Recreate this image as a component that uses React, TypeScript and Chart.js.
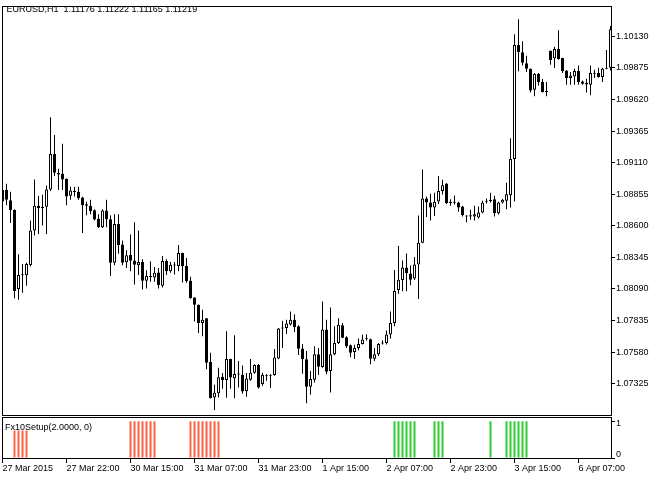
import { useEffect, useRef } from 'react';
import { Chart, registerables } from 'chart.js';
Chart.register(...registerables);

const FONT = "'Liberation Sans', Arial, sans-serif";
const TITLE = 'EURUSD,H1  1.11176 1.11222 1.11165 1.11219';
const INDICATOR_TITLE = 'Fx10Setup(2.0000, 0)';

const opens = [
  1.08796, 1.08892, 1.08806, 1.08730, 1.08090, 1.08202, 1.08200, 1.08284, 1.08562, 1.08762,
  1.08742, 1.08754, 1.08894, 1.09180, 1.09028, 1.09020, 1.08980, 1.08842, 1.08882, 1.08876,
  1.08828, 1.08774, 1.08762, 1.08726, 1.08658, 1.08588, 1.08724, 1.08654, 1.08302, 1.08614,
  1.08450, 1.08306, 1.08364, 1.08320, 1.08282, 1.08308, 1.08156, 1.08194, 1.08182, 1.08222,
  1.08116, 1.08316, 1.08234, 1.08284, 1.08276, 1.08380, 1.08276, 1.08156, 1.08020, 1.07962,
  1.07814, 1.07854, 1.07500, 1.07214, 1.07248, 1.07380, 1.07354, 1.07524, 1.07368, 1.07402,
  1.07396, 1.07264, 1.07356, 1.07414, 1.07476, 1.07322, 1.07392, 1.07388, 1.07394, 1.07528,
  1.07770, 1.07774, 1.07802, 1.07842, 1.07788, 1.07610, 1.07522, 1.07300, 1.07356, 1.07562,
  1.07460, 1.07762, 1.07428, 1.07562, 1.07654, 1.07796, 1.07700, 1.07636, 1.07580, 1.07614,
  1.07646, 1.07684, 1.07684, 1.07526, 1.07562, 1.07650, 1.07654, 1.07722, 1.07814, 1.08082,
  1.08162, 1.08264, 1.08214, 1.08174, 1.08288, 1.08464, 1.08820, 1.08788, 1.08748, 1.08796,
  1.08882, 1.08942, 1.08794, 1.08786, 1.08788, 1.08756, 1.08682, 1.08676, 1.08676, 1.08668,
  1.08708, 1.08794, 1.08798, 1.08814, 1.08702, 1.08788, 1.08802, 1.08846, 1.09140, 1.10060,
  1.10002, 1.09914, 1.09868, 1.09700, 1.09828, 1.09762, 1.09682, 1.10014, 1.09954, 1.10028,
  1.09956, 1.09854, 1.09794, 1.09806, 1.09850, 1.09766, 1.09756, 1.09740, 1.09828, 1.09834,
  1.09802, 1.09868, 1.09876,
];
const highs = [
  1.08908, 1.08940, 1.08876, 1.08732, 1.08370, 1.08292, 1.08302, 1.08642, 1.08974, 1.08842,
  1.08850, 1.08926, 1.09476, 1.09334, 1.09060, 1.09262, 1.08982, 1.08916, 1.08916, 1.08916,
  1.08834, 1.08794, 1.08810, 1.08734, 1.08694, 1.08734, 1.08810, 1.08686, 1.08694, 1.08694,
  1.08482, 1.08402, 1.08530, 1.08628, 1.08562, 1.08330, 1.08242, 1.08314, 1.08268, 1.08260,
  1.08356, 1.08330, 1.08308, 1.08308, 1.08446, 1.08382, 1.08340, 1.08188, 1.08022, 1.07964,
  1.07922, 1.07856, 1.07574, 1.07316, 1.07454, 1.07412, 1.07748, 1.07526, 1.07716, 1.07508,
  1.07472, 1.07412, 1.07524, 1.07482, 1.07484, 1.07414, 1.07402, 1.07402, 1.07604, 1.07774,
  1.07834, 1.07842, 1.07908, 1.07886, 1.07796, 1.07646, 1.07588, 1.07428, 1.07628, 1.07614,
  1.07988, 1.07842, 1.07940, 1.07788, 1.07854, 1.07814, 1.07708, 1.07642, 1.07640, 1.07690,
  1.07720, 1.07724, 1.07690, 1.07614, 1.07654, 1.07676, 1.07754, 1.07908, 1.08244, 1.08436,
  1.08320, 1.08376, 1.08280, 1.08348, 1.08684, 1.09054, 1.08836, 1.08860, 1.08868, 1.09002,
  1.08972, 1.08944, 1.08814, 1.08844, 1.08794, 1.08762, 1.08686, 1.08730, 1.08762, 1.08756,
  1.08802, 1.08820, 1.08868, 1.08842, 1.08794, 1.08816, 1.08948, 1.09308, 1.10148, 1.10268,
  1.10090, 1.09974, 1.09870, 1.09834, 1.09834, 1.09788, 1.09762, 1.10016, 1.10046, 1.10180,
  1.09958, 1.09856, 1.09842, 1.09868, 1.09894, 1.09774, 1.09788, 1.09894, 1.09860, 1.09876,
  1.09876, 1.10020, 1.10214,
];
const lows = [
  1.08784, 1.08766, 1.08622, 1.08014, 1.08002, 1.08060, 1.08116, 1.08272, 1.08522, 1.08534,
  1.08602, 1.08534, 1.08882, 1.09002, 1.08890, 1.08890, 1.08766, 1.08810, 1.08836, 1.08810,
  1.08542, 1.08686, 1.08694, 1.08642, 1.08582, 1.08582, 1.08588, 1.08194, 1.08282, 1.08374,
  1.08282, 1.08260, 1.08234, 1.08126, 1.08202, 1.08086, 1.08094, 1.08148, 1.08148, 1.08094,
  1.08102, 1.08202, 1.08220, 1.08206, 1.08234, 1.08142, 1.08140, 1.08010, 1.07828, 1.07734,
  1.07708, 1.07442, 1.07206, 1.07112, 1.07214, 1.07284, 1.07212, 1.07284, 1.07208, 1.07294,
  1.07244, 1.07220, 1.07348, 1.07406, 1.07286, 1.07308, 1.07348, 1.07290, 1.07388, 1.07522,
  1.07614, 1.07726, 1.07794, 1.07740, 1.07556, 1.07406, 1.07166, 1.07236, 1.07334, 1.07394,
  1.07454, 1.07402, 1.07254, 1.07554, 1.07646, 1.07692, 1.07614, 1.07538, 1.07524, 1.07594,
  1.07642, 1.07672, 1.07482, 1.07508, 1.07548, 1.07642, 1.07642, 1.07690, 1.07788, 1.08052,
  1.08072, 1.08072, 1.08120, 1.08162, 1.08008, 1.08460, 1.08672, 1.08642, 1.08680, 1.08776,
  1.08852, 1.08776, 1.08762, 1.08772, 1.08714, 1.08676, 1.08628, 1.08650, 1.08642, 1.08660,
  1.08702, 1.08780, 1.08788, 1.08676, 1.08692, 1.08780, 1.08734, 1.08748, 1.08796, 1.09848,
  1.09894, 1.09842, 1.09676, 1.09646, 1.09734, 1.09676, 1.09646, 1.09902, 1.09874, 1.09942,
  1.09834, 1.09740, 1.09740, 1.09740, 1.09740, 1.09740, 1.09676, 1.09654, 1.09794, 1.09796,
  1.09762, 1.09864, 1.09854,
];
const closes = [
  1.08892, 1.08810, 1.08726, 1.08074, 1.08202, 1.08200, 1.08292, 1.08562, 1.08762, 1.08742,
  1.08754, 1.08894, 1.09180, 1.09028, 1.09014, 1.08974, 1.08836, 1.08886, 1.08874, 1.08822,
  1.08766, 1.08762, 1.08718, 1.08652, 1.08588, 1.08724, 1.08654, 1.08302, 1.08614, 1.08446,
  1.08302, 1.08362, 1.08318, 1.08286, 1.08308, 1.08156, 1.08194, 1.08186, 1.08220, 1.08122,
  1.08316, 1.08234, 1.08286, 1.08280, 1.08380, 1.08274, 1.08154, 1.08014, 1.07962, 1.07814,
  1.07842, 1.07494, 1.07208, 1.07252, 1.07376, 1.07352, 1.07524, 1.07374, 1.07404, 1.07398,
  1.07262, 1.07366, 1.07414, 1.07476, 1.07294, 1.07396, 1.07388, 1.07392, 1.07536, 1.07770,
  1.07776, 1.07810, 1.07842, 1.07780, 1.07606, 1.07522, 1.07300, 1.07362, 1.07562, 1.07462,
  1.07762, 1.07422, 1.07562, 1.07654, 1.07800, 1.07696, 1.07628, 1.07574, 1.07614, 1.07646,
  1.07682, 1.07688, 1.07526, 1.07562, 1.07646, 1.07654, 1.07722, 1.07814, 1.08074, 1.08164,
  1.08264, 1.08216, 1.08164, 1.08288, 1.08464, 1.08820, 1.08788, 1.08748, 1.08794, 1.08882,
  1.08928, 1.08782, 1.08784, 1.08794, 1.08748, 1.08686, 1.08676, 1.08686, 1.08694, 1.08708,
  1.08788, 1.08800, 1.08810, 1.08702, 1.08788, 1.08810, 1.08854, 1.09140, 1.10060, 1.10002,
  1.09918, 1.09868, 1.09694, 1.09828, 1.09760, 1.09680, 1.09680, 1.09940, 1.10028, 1.09948,
  1.09850, 1.09794, 1.09814, 1.09850, 1.09762, 1.09748, 1.09742, 1.09834, 1.09834, 1.09802,
  1.09868, 1.09876, 1.10188,
];

// time axis labels, every 16 hourly bars
const timeTickBars = [0, 16, 32, 48, 64, 80, 96, 112, 128, 144];
const timeLabels = [
  '27 Mar 2015', '27 Mar 22:00', '30 Mar 15:00', '31 Mar 07:00', '31 Mar 23:00',
  '1 Apr 15:00', '2 Apr 07:00', '2 Apr 23:00', '3 Apr 15:00', '6 Apr 07:00',
];
const priceTicks = [
  1.07325, 1.0758, 1.07835, 1.0809, 1.08345, 1.086, 1.08855, 1.0911, 1.09365, 1.0962, 1.09875, 1.1013,
];
const indicatorTicks = [0, 1];

// Fx10Setup histogram
const sellBars = [3, 4, 5, 6, 32, 33, 34, 35, 36, 37, 38, 47, 48, 49, 50, 51, 52, 53, 54];
const sellValues = [0.75, 0.75, 0.75, 0.75, 1, 1, 1, 1, 1, 1, 1, 1, 1, 1, 1, 1, 1, 1, 1];
const buyBars = [98, 99, 100, 101, 102, 103, 108, 109, 110, 122, 126, 127, 128, 129, 130, 131];
const buyValues = [1, 1, 1, 1, 1, 1, 1, 1, 1, 1, 1, 1, 1, 1, 1, 1];

export default function App() {
  const ref = useRef<HTMLCanvasElement>(null);

  useEffect(() => {
    const canvas = ref.current;
    if (!canvas) return;
    const idx = opens.map((_, i) => i);
    const bull = idx.map((i) => closes[i] > opens[i]);

    const framePlugin = {
      id: 'mtFrames',
      afterDraw(chart: any) {
        const { ctx, chartArea } = chart;
        const y = chart.scales.y;
        const y2 = chart.scales.y2;
        const L = Math.round(chartArea.left) + 0.5;
        const R = Math.round(chartArea.right) + 0.5;
        ctx.save();
        ctx.strokeStyle = '#000';
        ctx.lineWidth = 1;
        const t1 = Math.round(y.top) + 0.5;
        const b1 = Math.round(y.bottom) - 0.5;
        ctx.strokeRect(L, t1, R - L, b1 - t1);
        const t2 = Math.round(y2.top) + 1.5;
        const b2 = Math.round(y2.bottom) - 0.5;
        ctx.strokeRect(L, t2, R - L, b2 - t2);
        ctx.fillStyle = '#000';
        ctx.font = `9px ${FONT}`;
        ctx.textBaseline = 'middle';
        ctx.textAlign = 'left';
        ctx.fillText(TITLE, 6.5, 9.5);
        ctx.fillText(INDICATOR_TITLE, 5, 427.5);
        ctx.restore();
      },
    };

    const tickFont = { family: FONT, size: 9 };

    const chart = new Chart(canvas, {
      type: 'bar',
      data: {
        datasets: [
          {
            label: 'wick',
            data: idx.map((i) => ({ x: i, y: [lows[i], highs[i]] })) as any,
            xAxisID: 'x',
            yAxisID: 'y',
            backgroundColor: '#000',
            borderWidth: 0,
            barThickness: 1,
            inflateAmount: 0,
            grouped: false,
            minBarLength: 1,
            order: 2,
          } as any,
          {
            label: 'body',
            data: idx.map((i) => ({ x: i, y: [opens[i], closes[i]] })) as any,
            xAxisID: 'x',
            yAxisID: 'y',
            backgroundColor: idx.map((i) => (bull[i] ? '#ffffff' : '#000000')),
            borderColor: '#000',
            borderWidth: 1,
            borderSkipped: false,
            barThickness: 3,
            inflateAmount: 0,
            grouped: false,
            minBarLength: 1,
            order: 1,
          } as any,
          {
            label: 'sell',
            data: sellBars.map((b, k) => ({ x: b, y: sellValues[k] })) as any,
            xAxisID: 'x',
            yAxisID: 'y2',
            backgroundColor: '#ff6347',
            borderWidth: 0,
            barThickness: 2,
            inflateAmount: 0,
            grouped: false,
            order: 0,
          } as any,
          {
            label: 'buy',
            data: buyBars.map((b, k) => ({ x: b, y: buyValues[k] })) as any,
            xAxisID: 'x',
            yAxisID: 'y2',
            backgroundColor: '#32cd32',
            borderWidth: 0,
            barThickness: 2,
            inflateAmount: 0,
            grouped: false,
            order: 0,
          } as any,
        ],
      },
      options: {
        responsive: false,
        animation: false,
        devicePixelRatio: 1,
        events: [],
        layout: { padding: { left: 2, top: 2, right: 0, bottom: 0 } },
        plugins: { legend: { display: false }, tooltip: { enabled: false }, title: { display: false } },
        scales: {
          x: {
            type: 'linear',
            position: 'bottom',
            offset: false,
            min: -0.125,
            max: 152.125,
            afterBuildTicks: (s: any) => {
              s.ticks = timeTickBars.map((v) => ({ value: v }));
            },
            afterFit: (s: any) => {
              s.height = 20;
              s.paddingLeft = 0;
              s.paddingRight = 0;
            },
            grid: { offset: false, drawOnChartArea: false, drawTicks: true, tickLength: 4, color: '#000' },
            border: { display: false },
            ticks: {
              align: 'start',
              maxRotation: 0,
              autoSkip: false,
              padding: 0,
              color: '#000',
              font: tickFont,
              callback: (v: any) => timeLabels[timeTickBars.indexOf(Number(v))] ?? '',
            },
          },
          y: {
            type: 'linear',
            position: 'right',
            stack: 'panes',
            stackWeight: 414,
            min: 1.070604,
            max: 1.103724,
            afterBuildTicks: (s: any) => {
              s.ticks = priceTicks.map((v) => ({ value: v }));
            },
            afterFit: (s: any) => {
              s.width = 52;
            },
            grid: { drawOnChartArea: false, drawTicks: true, tickLength: 4, color: '#000' },
            border: { display: false },
            ticks: {
              autoSkip: false,
              padding: 1,
              color: '#000',
              font: tickFont,
              callback: (v: any) => Number(v).toFixed(5),
            },
          },
          y2: {
            type: 'linear',
            position: 'right',
            stack: 'panes',
            stackWeight: 43,
            min: -0.027,
            max: 1.135,
            afterBuildTicks: (s: any) => {
              s.ticks = indicatorTicks.map((v) => ({ value: v }));
            },
            afterFit: (s: any) => {
              s.width = 52;
            },
            grid: { drawOnChartArea: false, drawTicks: true, tickLength: 4, color: '#000' },
            border: { display: false },
            ticks: {
              autoSkip: false,
              padding: 1,
              color: '#000',
              // MetaTrader nudges the edge labels of a sub-window inside the pane
              font: (c: any) => ({
                family: FONT,
                size: 9,
                lineHeight: c && c.tick && c.tick.value === 1 ? '5px' : '7px',
              }),
              callback: (v: any) => (Number(v) === 1 ? ['', '1'] : ['0', '']),
            },
          },
        },
      } as any,
      plugins: [framePlugin],
    });

    return () => chart.destroy();
  }, []);

  return (
    <div style={{ position: 'fixed', left: 0, top: 0, width: 663, height: 479, background: '#fff' }}>
      <canvas ref={ref} width={663} height={479} style={{ width: 663, height: 479, display: 'block' }} />
    </div>
  );
}
